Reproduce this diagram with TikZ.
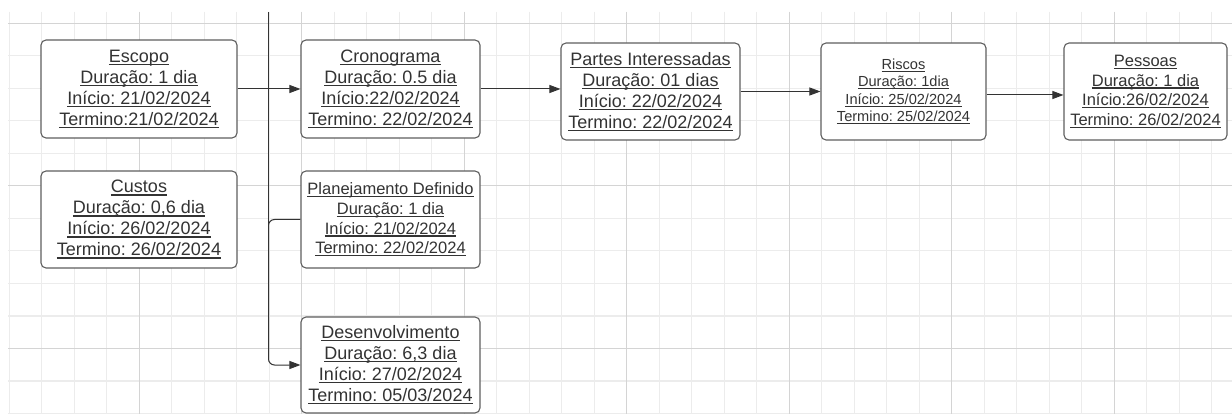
\documentclass[tikz,border=0pt]{standalone}
\usepackage{fontspec}
\setmainfont{Liberation Sans}
\usetikzlibrary{arrows.meta}
\frenchspacing

\definecolor{ink}{HTML}{333333}
\definecolor{edge}{HTML}{5E5E5E}
\definecolor{gridminor}{HTML}{ECECEC}
\definecolor{gridmajor}{HTML}{D4D4D4}

% underline at a fixed distance below the baseline, scaled with the font
\newcommand\ulin[1]{\setbox0\hbox{#1}\rlap{\rule[-0.16em]{\wd0}{0.075em}}\box0}

\tikzset{
  card/.style={draw=edge, line width=1.1pt, rounded corners=5pt, fill=white,
    inner sep=0pt, align=center, text=ink, font=\fontsize{18}{21}\selectfont},
  smallcard/.style={card, font=\fontsize{16.5}{19.7}\selectfont},
  tinycard/.style={card, font=\fontsize{14.6}{17.4}\selectfont},
  link/.style={draw=ink, line width=1pt, -{Triangle[length=11pt,width=8pt]}},
  minorline/.style={draw=gridminor, line width=1.2pt},
  majorline/.style={draw=gridmajor, line width=1.2pt},
}

\begin{document}
\begin{tikzpicture}[x=1pt, y=-1pt]
\useasboundingbox (0,0) rectangle (1232,414);
\fill[white] (0,0) rectangle (1232,414);

% background grid
\begin{scope}
  \clip (8,12) rectangle (1232,414);
  \foreach \i in {0,...,37} {
    \draw[minorline] ({9.2+32.5*\i},12) -- ({9.2+32.5*\i},414);
  }
  \foreach \j in {0,...,12} {
    \draw[minorline] (8,{23.4+32.5*\j}) -- (1232,{23.4+32.5*\j});
  }
  \foreach \i in {0,...,6} {
    \draw[majorline] ({139.2+162.5*\i},12) -- ({139.2+162.5*\i},414);
  }
  \foreach \j in {0,...,2} {
    \draw[majorline] (8,{23.4+162.5*\j}) -- (1232,{23.4+162.5*\j});
  }
\end{scope}

% task cards
\node[card, minimum width=196pt, minimum height=98pt] (escopo) at (139,89)
  {\ulin{Escopo}\\ \ulin{Duração: 1 dia}\\ \ulin{Início: 21/02/2024}\\ \ulin{Termino:21/02/2024}};
\node[card, minimum width=196pt, minimum height=97pt] (custos) at (139,219.5)
  {\ulin{Custos}\\ \ulin{Duração: 0,6 dia}\\ \ulin{Início: 26/02/2024}\\ \ulin{Termino: 26/02/2024}};
\node[card, minimum width=179pt, minimum height=98pt] (crono) at (390.5,89)
  {\ulin{Cronograma}\\ \ulin{Duração: 0.5 dia}\\ \ulin{Início:22/02/2024}\\ \ulin{Termino: 22/02/2024}};
\node[card, minimum width=179pt, minimum height=97pt] (partes) at (650.5,91.5)
  {\ulin{Partes Interessadas}\\ \ulin{Duração: 01 dias}\\ \ulin{Início: 22/02/2024}\\ \ulin{Termino: 22/02/2024}};
\node[tinycard, minimum width=165pt, minimum height=97pt] (riscos) at (903.5,91.5)
  {\ulin{Riscos}\\ \ulin{Duração: 1dia}\\ \ulin{Início: 25/02/2024}\\ \ulin{Termino: 25/02/2024}};
\node[smallcard, minimum width=163pt, minimum height=97pt] (pessoas) at (1145.5,91.5)
  {\ulin{Pessoas}\\ \ulin{Duração: 1 dia}\\ \ulin{Início:26/02/2024}\\ \ulin{Termino: 26/02/2024}};
\node[smallcard, minimum width=179pt, minimum height=97pt] (plan) at (390.5,219.5)
  {\ulin{Planejamento Definido}\\ \ulin{Duração: 1 dia}\\ \ulin{Início: 21/02/2024}\\ \ulin{Termino: 22/02/2024}};
\node[card, minimum width=179pt, minimum height=96pt] (desenv) at (390.5,365)
  {\ulin{Desenvolvimento}\\ \ulin{Duração: 6,3 dia}\\ \ulin{Início: 27/02/2024}\\ \ulin{Termino: 05/03/2024}};

% vertical feeder line
\coordinate (bus) at (268.5,12);
\coordinate (busend) at (268.5,320);
\draw[draw=ink, line width=1pt] (bus) -- (busend);

% connectors
\draw[link] (escopo.east) -- (crono.west);
\draw[link] (crono.east) -- (crono.east -| partes.west);
\draw[link] (partes.east) -- (riscos.west);
\draw[link] ([yshift=-3.5pt]riscos.east) -- ([yshift=-3.5pt]pessoas.west);
\draw[link, rounded corners=6pt] (plan.west) -- (plan.west -| bus)
  -- (desenv.west -| bus) -- (desenv.west);
\end{tikzpicture}
\end{document}
